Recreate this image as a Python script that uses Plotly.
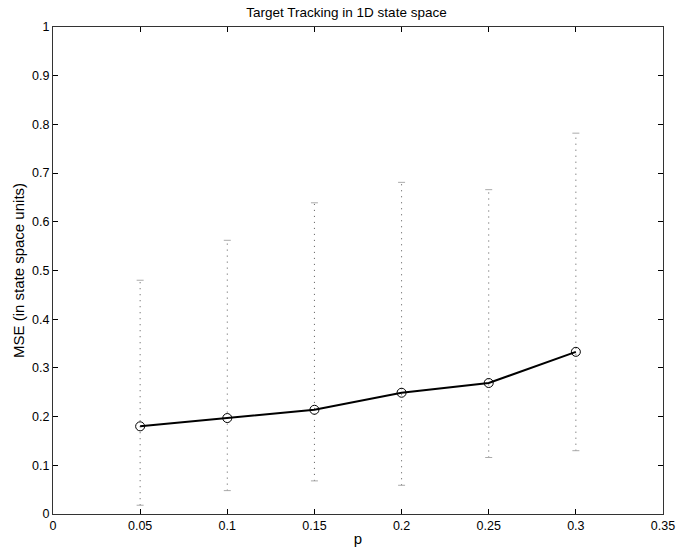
import plotly.graph_objects as go

p = [0.05, 0.10, 0.15, 0.20, 0.25, 0.30]
mse = [0.180, 0.197, 0.214, 0.249, 0.269, 0.333]
upper = [0.480, 0.562, 0.639, 0.681, 0.666, 0.782]
lower = [0.018, 0.048, 0.068, 0.059, 0.116, 0.130]

x_ticks = [0, 0.05, 0.1, 0.15, 0.2, 0.25, 0.3, 0.35]
x_tick_labels = ["0", "0.05", "0.1", "0.15", "0.2", "0.25", "0.3", "0.35"]
y_ticks = [0, 0.1, 0.2, 0.3, 0.4, 0.5, 0.6, 0.7, 0.8, 0.9, 1]
y_tick_labels = ["0", "0.1", "0.2", "0.3", "0.4", "0.5", "0.6", "0.7", "0.8", "0.9", "1"]

# vertical dotted error bars built from data
ex, ey = [], []
for xi, lo, hi in zip(p, lower, upper):
    ex += [xi, xi, None]
    ey += [lo, hi, None]

fig = go.Figure()
fig.add_trace(go.Scatter(
    x=ex, y=ey, mode="lines",
    line=dict(color="#555555", width=1, dash="1px,5px"),
    hoverinfo="skip", showlegend=False))
# caps
fig.add_trace(go.Scatter(
    x=p + p, y=lower + upper, mode="markers",
    marker=dict(symbol="line-ew", size=5, line=dict(color="#aaaaaa", width=1)),
    hoverinfo="skip", showlegend=False))
fig.add_trace(go.Scatter(
    x=p, y=mse, mode="lines+markers",
    line=dict(color="black", width=2),
    marker=dict(symbol="circle-open", size=9, color="black", line=dict(width=1)),
    showlegend=False))

font = dict(family="Liberation Sans, Arial, sans-serif", size=12.5, color="black")
fig.update_layout(
    width=693, height=547,
    margin=dict(l=53, r=30, t=27, b=33, autoexpand=False),
    paper_bgcolor="white", plot_bgcolor="white",
    font=font,
    title=dict(text="Target Tracking in 1D state space", x=0.5, xanchor="center",
               y=1 - 12 / 547, yanchor="middle", font=dict(size=13.5)),
)
fig.update_xaxes(
    range=[0, 0.35], tickvals=x_ticks, ticktext=x_tick_labels,
    ticks="inside", ticklen=5, tickcolor="black", showgrid=False, zeroline=False,
    showline=True, linecolor="#333333", linewidth=1, mirror="ticks",
    automargin=False,
    title=dict(text="p", standoff=2), tickfont=font)
fig.update_yaxes(
    range=[0, 1], tickvals=y_ticks, ticktext=y_tick_labels,
    ticks="inside", ticklen=5, tickcolor="black", showgrid=False, zeroline=False,
    showline=True, linecolor="#333333", linewidth=1, mirror="ticks",
    automargin=False,
    title=dict(text="MSE (in state space units)", standoff=3), tickfont=font)

fig.write_html("out.html", config={"displayModeBar": False},
               post_script="document.body.style.margin='0';document.body.style.overflow='hidden';")
